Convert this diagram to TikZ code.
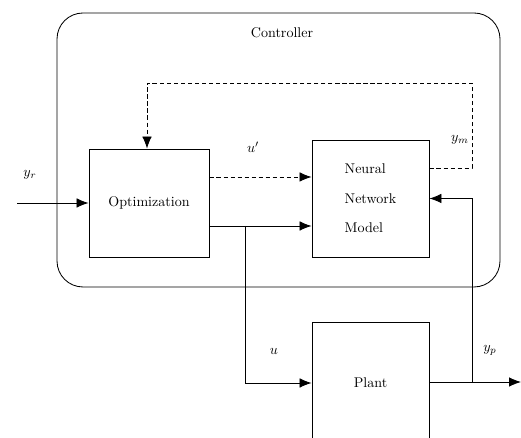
\documentclass[tikz,border=0pt]{standalone}
\usepackage{amsmath}
\usetikzlibrary{arrows.meta}

\begin{document}
\begin{tikzpicture}[x=0.025cm, y=-0.025cm, >={Latex[length=0.3cm, width=0.24cm]}, line width=0.6pt,
		dashline/.style={dash pattern=on 3pt off 2pt}]
		\useasboundingbox (0,0) rectangle (521,438);
		\clip (0,0) rectangle (521,438);
		\draw[rounded corners=0.65cm] (57,13) rectangle (500,287);
		\node (controller) at (282,33) {Controller};
		\node[draw, minimum width=3cm, minimum height=2.7cm] (opt) at (149,203) {Optimization};
		\node[draw, minimum width=2.925cm, minimum height=2.925cm, align=left] (nn) at (370.5,198.5) {Neural\\[9pt]Network\\[9pt]Model};
		\node[draw, minimum width=2.925cm, minimum height=3.05cm] (plant) at (370.5,383) {Plant};
		\coordinate (yrin) at (17,203);
		\coordinate (ypout) at (521,382);
		\coordinate (loopc) at (472,83);
		\coordinate (usplit) at (245,226);
		\coordinate (ysplit) at (472,382);
		\node (yr) at (30,175) {$y_r$};
		\node (uprime) at (253,147) {$u'$};
		\node (ym) at (460,140) {$y_m$};
		\node (u) at (274,351) {$u$};
		\node (yp) at (490,350) {$y_p$};
		\draw[->] (yrin) -- (opt);
		\draw[->, dashline] ([yshift=0.65cm]opt.east) -- ([yshift=0.65cm]opt.east -| nn.west);
		\draw[->] (opt.east |- usplit) -- (usplit -| nn.west);
		\draw[->] (usplit) |- (plant.west);
		\draw[->] (plant.east |- ysplit) -- (ypout);
		\draw[->] (ysplit) |- (nn.east);
		\draw[->, dashline] ([yshift=0.76cm]nn.east) -| (loopc) -| ([xshift=-0.05cm]opt.north);
\end{tikzpicture}
\end{document}
